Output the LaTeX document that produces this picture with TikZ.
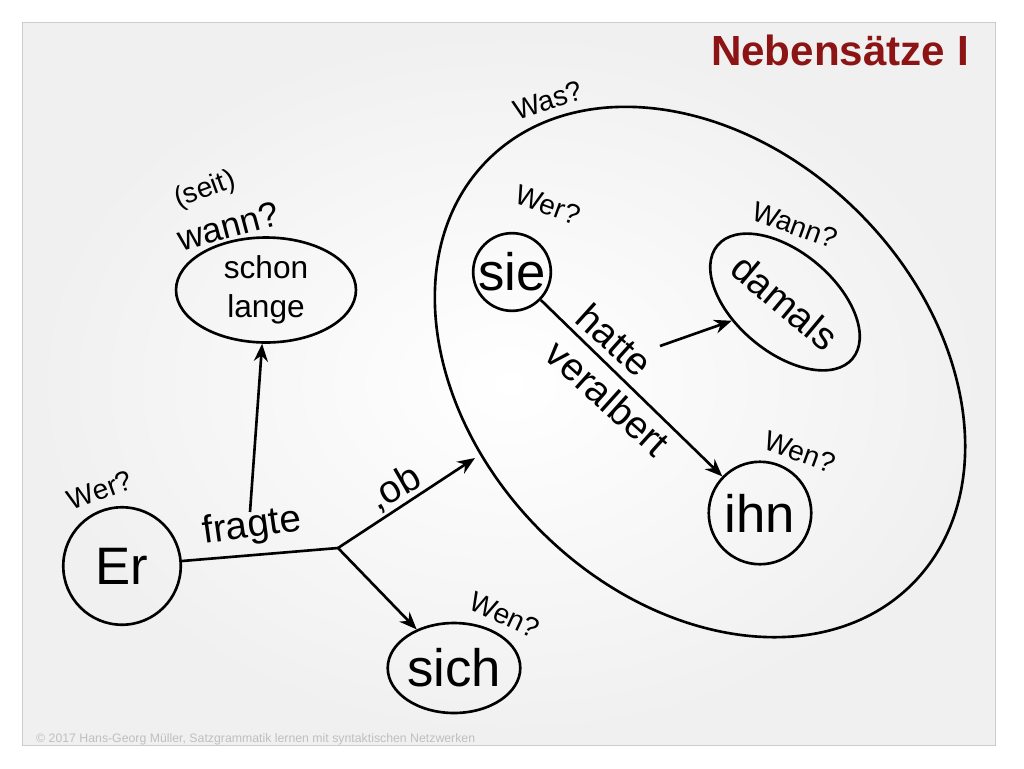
\documentclass[tikz,border=0pt]{standalone}
\usepackage{fontspec}
\setmainfont{Liberation Sans}
\usetikzlibrary{positioning,calc,shapes,arrows.meta}
\definecolor{titlered}{RGB}{140,20,20}
\tikzstyle{nod}= [circle, draw, line width=1.5pt, inner sep=0pt]
\tikzstyle{oval}= [ellipse, draw, line width=1.5pt, inner sep=0pt]
\tikzstyle{edge}= [line width=1.5pt, -{Stealth[length=10pt,width=8pt]}]
\tikzstyle{ask}= [font=\fontsize{16}{18}\selectfont]
\tikzstyle{big}= [font=\fontsize{30}{34}\selectfont]
\tikzstyle{verb}= [font=\fontsize{22}{24}\selectfont]
\begin{document}
\begin{tikzpicture}[x=0.02cm,y=-0.02cm]
				\useasboundingbox (0,0) rectangle (1024,768);
				\fill[white] (0,0) rectangle (1024,768);
				\shade[inner color=white, outer color=gray!12, draw=gray!40] (22,22) rectangle (995,745);
				\node[font=\bfseries\fontsize{24}{28}\selectfont, text=titlered, anchor=east] (title) at (975,50) {Nebensätze I};
				% embedded clause
				\draw[line width=1.5pt] (700,372) ellipse[x radius=300, y radius=225, rotate=-45];
				\node[ask, rotate=18] (was) at (548,100) {Was?};
				\node[nod, big, minimum size=1.5cm] (sie) at (512,272) {sie};
				\node[ask, rotate=-20] (wer2) at (548,205) {Wer?};
				\node[oval, verb, minimum width=3.3cm, minimum height=2cm, rotate=-40] (damals) at (785,302) {damals};
				\node[ask, rotate=-20] (wann2) at (795,225) {Wann?};
				\node[nod, big, minimum size=2.05cm] (ihn) at (760,513) {ihn};
				\node[ask, rotate=-20] (wen2) at (800,452) {Wen?};
				\draw[edge] (sie) -- (ihn);
				\node[verb, rotate=-42] (hatte) at (615,340) {hatte};
				\node[verb, rotate=-42] (veralbert) at (608,398) {veralbert};
				\coordinate (h) at (660,346);
				\draw[edge] (h) -- (damals);
				% main clause
				\node[nod, big, minimum size=2.35cm] (er) at (122,566) {Er};
				\node[ask, rotate=20] (wer1) at (100,490) {Wer?};
				\coordinate (j) at (338,548);
				\draw[line width=1.5pt] (er) -- (j);
				\node[verb, rotate=8] (fragte) at (252,527) {fragte};
				\node[oval, font=\fontsize{18}{22}\selectfont, align=center, minimum width=3.6cm, minimum height=2.1cm] (lange) at (266,290) {schon\\lange};
				\node[ask, rotate=20] (seit) at (205,190) {(seit)};
				\node[ask, font=\fontsize{20}{22}\selectfont, rotate=15] (wann1) at (228,226) {wann?};
				\coordinate (f) at (250,512);
				\draw[edge] (f) -- (lange);
				\coordinate (ob) at (475,458);
				\draw[edge] (j) -- (ob);
				\node[verb, rotate=30] (obl) at (395,488) {,ob};
				\node[oval, big, minimum width=2.5cm, minimum height=1.8cm] (sich) at (454,668) {sich};
				\draw[edge] (j) -- (sich);
				\node[ask, rotate=-25] (wen1) at (505,615) {Wen?};
				\node[text=gray!50, font=\fontsize{7}{8}\selectfont, anchor=west] (foot) at (30,739) {© 2017 Hans-Georg Müller, Satzgrammatik lernen mit syntaktischen Netzwerken};
			\end{tikzpicture}
\end{document}
